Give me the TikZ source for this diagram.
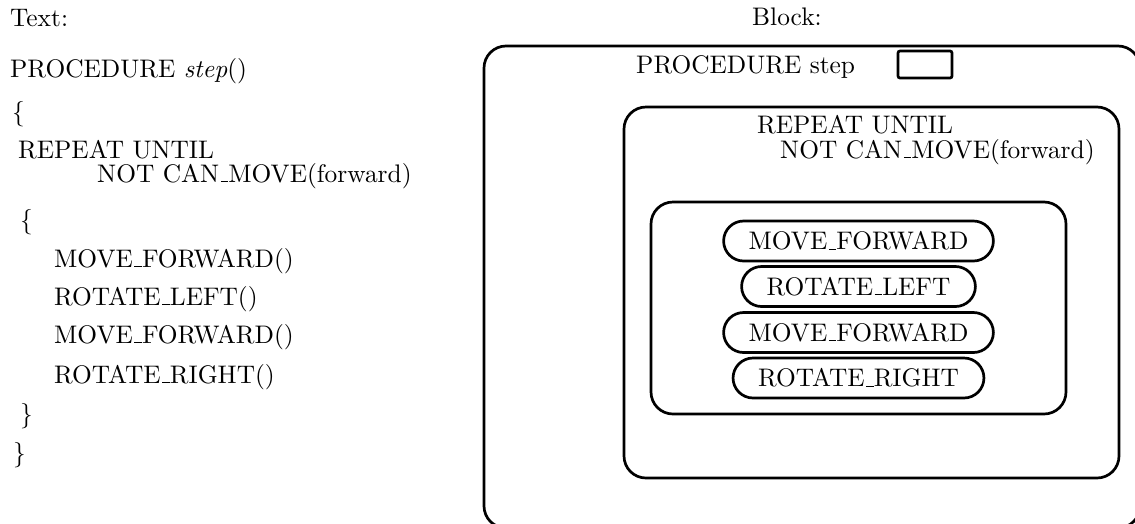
\documentclass[tikz,border=0pt]{standalone}
\usepackage{fontspec}
\setmainfont{lmroman10-regular.otf}[ItalicFont=lmroman10-italic.otf]
\usepackage{tikz}
\usetikzlibrary{positioning}
\newcommand{\usc}{\leavevmode\kern.06em\vbox{\hrule height 1.1pt width .3em}}

\begin{document}
\begin{tikzpicture}[x=1pt,y=-1pt,
  every node/.style={font=\fontsize{25.4}{30}\selectfont,inner sep=0pt},
  code/.style={anchor=base west},
  frame/.style={draw,line width=2.7pt,rounded corners=22pt},
  pill/.style={draw,line width=2.7pt,rounded corners=20pt,minimum height=40pt,
               inner xsep=25pt}]
  \useasboundingbox (0,0) rectangle (1135,523);
  % text version
  \node[code] (ttl) at (10,26) {Text:};
  \node[code] (p1) at (10,77) {PROCEDURE \textit{step}()};
  \node[code] (p2) at (12,120) {\{};
  \node[code] (p3) at (18,158) {REPEAT UNTIL};
  \node[code] (p4) at (97,182) {NOT CAN\usc MOVE(forward)};
  \node[code] (p5) at (20,228) {\{};
  \node[code] (p6) at (54,267) {MOVE\usc FORWARD()};
  \node[code] (p7) at (54,305) {ROTATE\usc LEFT()};
  \node[code] (p8) at (54,343) {MOVE\usc FORWARD()};
  \node[code] (p9) at (54,383) {ROTATE\usc RIGHT()};
  \node[code] (p10) at (20,422) {\}};
  \node[code] (p11) at (13,461) {\}};
  % block version
  \node[code] (btl) at (752,25) {Block:};
  \draw[frame] (484,46) rectangle (1140,528);
  \node[code] (proc) at (636,73) {PROCEDURE step};
  \node[draw,line width=2.7pt,rounded corners=2pt,minimum width=54pt,
        minimum height=27pt] (slot) at (925,64.5) {};
  \draw[frame] (624,107) rectangle (1119,478);
  \node[code] (rep) at (757,133) {REPEAT UNTIL};
  \node[code] (cond) at (780,158) {NOT CAN\usc MOVE(forward)};
  \draw[frame] (651,202) rectangle (1066,414);
  \node[pill] (m1) at (858.5,241) {MOVE\usc FORWARD};
  \node[pill] (m2) at (858.5,286.5) {ROTATE\usc LEFT};
  \node[pill] (m3) at (858.5,332.5) {MOVE\usc FORWARD};
  \node[pill] (m4) at (858.5,378) {ROTATE\usc RIGHT};
\end{tikzpicture}
\end{document}
